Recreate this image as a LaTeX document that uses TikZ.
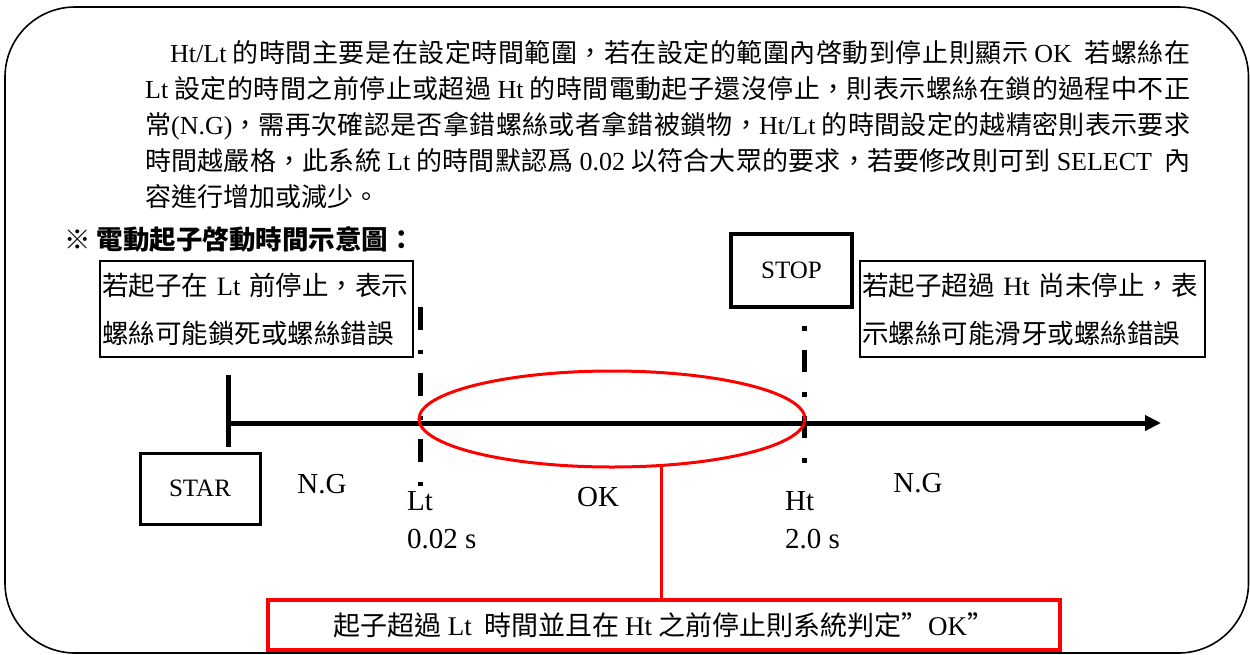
\documentclass[tikz,border=0pt]{standalone}
\usepackage{fontspec}
\setmainfont{Liberation Serif}
\newfontfamily\cjk{Noto Sans CJK TC}
\usetikzlibrary{arrows.meta,shapes.geometric}
% stretchable glue between consecutive CJK characters (for justified lines)
\newXeTeXintercharclass\cjkcls
\newcount\cjkn
\newcommand\cjkrange[2]{\cjkn=#1\relax
  \loop \XeTeXcharclass\cjkn=\cjkcls \advance\cjkn by 1 \ifnum\cjkn<#2\relax\repeat}
\cjkrange{"4E00}{"A000}
\cjkrange{"3000}{"3040}
\cjkrange{"FF00}{"FFF0}
\XeTeXinterchartoks\cjkcls\cjkcls={\hskip 0pt plus 3pt\relax}
\XeTeXinterchartokenstate=1
\newcommand\lat[1]{{\rmfamily #1}}
\tikzset{
  para/.style={inner sep=0pt, anchor=base west, font=\cjk\fontsize{26}{36}\selectfont},
  tbox/.style={draw, line width=1.5pt, inner xsep=2pt, inner ysep=0pt, align=left, minimum height=96pt, font=\cjk\fontsize{26.5}{48}\selectfont},
  sbox/.style={draw, line width=3pt, inner sep=0pt, font=\fontsize{25}{30}\selectfont},
  lbl/.style={inner sep=0pt, font=\fontsize{29}{34}\selectfont},
  thick line/.style={line width=5pt},
  redline/.style={draw=red, line width=3pt},
}
\begin{document}
\begin{tikzpicture}[x=1pt,y=-1pt]
\useasboundingbox (0,0) rectangle (1250,654);
% outer frame
\draw[line width=1.6pt, rounded corners=70pt] (5,7) rectangle (1248.5,653);

% paragraph
\node[para] (p1) at (170,62) {\makebox[1020pt][s]{\lat{Ht/Lt} 的時間主要是在設定時間範圍，若在設定的範圍內啓動到停止則顯示 \lat{OK}\ \ 若螺絲在}};
\node[para] (p2) at (145,98) {\makebox[1045pt][s]{\lat{Lt} 設定的時間之前停止或超過 \lat{Ht} 的時間電動起子還沒停止，則表示螺絲在鎖的過程中不正}};
\node[para] (p3) at (145,134) {\makebox[1045pt][s]{常\lat{(N.G)}，需再次確認是否拿錯螺絲或者拿錯被鎖物，\lat{Ht/Lt} 的時間設定的越精密則表示要求}};
\node[para] (p4) at (145,170) {\makebox[1045pt][s]{時間越嚴格，此系統 \lat{Lt} 的時間默認爲 \lat{0.02} 以符合大眾的要求，若要修改則可到 \lat{SELECT}\ \ 內}};
\node[para] (p5) at (145,206) {容進行增加或減少。};

% heading
\node[anchor=base west, inner sep=0pt, font=\cjk\bfseries\fontsize{26.5}{30}\selectfont] (head) at (64,249) {※ 電動起子啓動時間示意圖：};

% text boxes
\node[tbox, text width=309pt] (lbox) at (256.5,309) {若起子在 \lat{Lt} 前停止，表示\\\makebox[291pt][s]{螺絲可能鎖死或螺絲錯誤}};
\node[tbox, text width=341pt] (rbox) at (1032.5,309) {若起子超過 \lat{Ht} 尚未停止，表\\示螺絲可能滑牙或螺絲錯誤};

% STAR / STOP
\node[sbox, minimum width=120pt, minimum height=71pt] (star) at (200,488.5) {STAR};
\node[sbox, line width=4pt, minimum width=121pt, minimum height=73pt] (stop) at (791.5,270.5) {STOP};

% axis
\coordinate (a0) at (228,423);
\coordinate (a1) at (1161,423);
\draw[thick line, -{Triangle[length=16pt,width=15pt]}] (a0) -- (a1);
\coordinate (t0) at (228,375);
\coordinate (t1) at (228,447);
\draw[thick line] (t0) -- (t1);

% Lt / Ht marker lines
\coordinate (l0) at (420,307);
\coordinate (l1) at (420,490);
\draw[thick line, dash pattern=on 23pt off 20pt on 4pt off 19pt] (l0) -- (l1);
\coordinate (h0) at (804,326);
\coordinate (h1) at (804,463);
\draw[thick line, dash pattern=on 5pt off 19pt on 22pt off 20pt] (h0) -- (h1);

% labels
\node[lbl] (ng1) at (322,484) {N.G};
\node[lbl, anchor=base west] (lt) at (407,510) {Lt};
\node[lbl, anchor=base west] (lts) at (407,548) {0.02 s};
\node[lbl] (okl) at (598,497) {OK};
\node[lbl, anchor=base west] (ht) at (785,510) {Ht};
\node[lbl, anchor=base west] (hts) at (785,548) {2.0 s};
\node[lbl] (ng2) at (918,483) {N.G};

% OK ellipse and callout
\node[ellipse, redline, minimum width=386pt, minimum height=96pt, inner sep=0pt] (okell) at (612,419) {};
\node[draw=red, line width=4pt, minimum width=792pt, minimum height=50pt, inner sep=0pt, font=\cjk\fontsize{27}{30}\selectfont] (okbox) at (664,625) {起子超過 \lat{Lt}\ \ 時間並且在 \lat{Ht} 之前停止則系統判定”\lat{OK}”};
\coordinate (ct) at (661,465.5);
\draw[redline] (ct) -- (ct |- okbox.north);
\end{tikzpicture}
\end{document}
